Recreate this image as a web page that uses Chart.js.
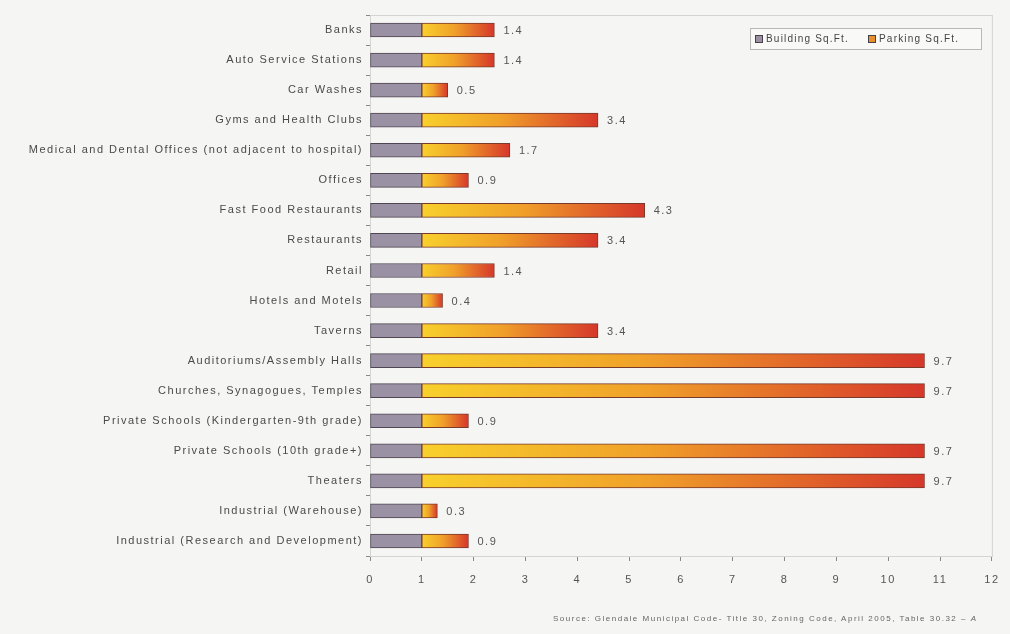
<!DOCTYPE html>
<html>
<head>
<meta charset="utf-8">
<script src="https://cdn.jsdelivr.net/npm/chart.js@4/dist/chart.umd.min.js"></script>
<style>
  html, body { margin: 0; padding: 0; background: #f5f5f3; }
  #wrap { position: relative; width: 1010px; height: 634px; }
  #source {
    position: absolute; left: 553px; top: 614px;
    font: 8px "Liberation Sans", Arial, sans-serif; color: #666;
    letter-spacing: 1.5px; white-space: nowrap;
  }
</style>
</head>
<body>
<div id="wrap">
  <canvas id="parkingChart" width="1010" height="634"></canvas>
  <div id="source">Source: Glendale Municipal Code- Title 30, Zoning Code, April 2005, Table 30.32 – <i>A</i></div>
</div>
<script>
// 카테고리와 값
var categories = [
  "Banks",
  "Auto Service Stations",
  "Car Washes",
  "Gyms and Health Clubs",
  "Medical and Dental Offices (not adjacent to hospital)",
  "Offices",
  "Fast Food Restaurants",
  "Restaurants",
  "Retail",
  "Hotels and Motels",
  "Taverns",
  "Auditoriums/Assembly Halls",
  "Churches, Synagogues, Temples",
  "Private Schools (Kindergarten-9th grade)",
  "Private Schools (10th grade+)",
  "Theaters",
  "Industrial (Warehouse)",
  "Industrial (Research and Development)"
];
var buildingSqFt = [1, 1, 1, 1, 1, 1, 1, 1, 1, 1, 1, 1, 1, 1, 1, 1, 1, 1];
var parkingSqFt = [1.4, 1.4, 0.5, 3.4, 1.7, 0.9, 4.3, 3.4, 1.4, 0.4, 3.4, 9.7, 9.7, 0.9, 9.7, 9.7, 0.3, 0.9];
var xTicks = [0, 1, 2, 3, 4, 5, 6, 7, 8, 9, 10, 11, 12];

var fontFamily = '"Liberation Sans", Arial, sans-serif';
var spacing = "1.5px"; // 원본 글자 간격이 넓음

// 주차 막대 그라데이션 (노랑 -> 빨강)
function parkingGradient(context) {
  var chart = context.chart;
  if (!chart.chartArea) return "#f0a030";
  var x = chart.scales.x;
  var start = x.getPixelForValue(buildingSqFt[context.dataIndex]);
  var end = x.getPixelForValue(buildingSqFt[context.dataIndex] + parkingSqFt[context.dataIndex]);
  var g = chart.ctx.createLinearGradient(start, 0, end + 0.01, 0);
  g.addColorStop(0, "#f8d02c");
  g.addColorStop(0.45, "#f0a02a");
  g.addColorStop(1, "#d6372a");
  return g;
}

// 글자 간격 + 플롯 영역 테두리
var areaPlugin = {
  id: "areaBox",
  beforeDraw: function (chart) {
    chart.ctx.letterSpacing = spacing;
  },
  beforeDatasetsDraw: function (chart) {
    var a = chart.chartArea, c = chart.ctx;
    c.save();
    c.strokeStyle = "#d4d4d2";
    c.lineWidth = 1;
    c.strokeRect(a.left + 0.5, a.top + 0.5, a.right - a.left, a.bottom - a.top);
    c.restore();
  }
};

// 값 라벨
var valuePlugin = {
  id: "valueLabels",
  afterDatasetsDraw: function (chart) {
    var meta = chart.getDatasetMeta(1);
    var c = chart.ctx;
    c.save();
    c.letterSpacing = spacing;
    c.font = "11px " + fontFamily;
    c.fillStyle = "#555";
    c.textBaseline = "middle";
    c.textAlign = "left";
    meta.data.forEach(function (bar, i) {
      c.fillText(String(parkingSqFt[i]), bar.x + 9, bar.y + 1);
    });
    c.restore();
  }
};

// 범례 (차트 영역 안 오른쪽 위)
var legendPlugin = {
  id: "boxLegend",
  afterDraw: function (chart) {
    var c = chart.ctx;
    var left = 750, top = 28, w = 231, h = 21;
    c.save();
    c.fillStyle = "#f9f9f8";
    c.fillRect(left, top, w, h);
    c.strokeStyle = "#b8b8b8";
    c.lineWidth = 1;
    c.strokeRect(left + 0.5, top + 0.5, w, h);
    c.letterSpacing = "1.2px";
    c.font = "10px " + fontFamily;
    c.textBaseline = "middle";
    var items = [
      { text: chart.data.datasets[0].label, x: 755, color: "#9a92a4" },
      { text: chart.data.datasets[1].label, x: 868, color: "#e8902a" }
    ];
    items.forEach(function (it) {
      c.fillStyle = it.color;
      c.fillRect(it.x, top + 7, 8, 8);
      c.strokeStyle = "#4a4048";
      c.strokeRect(it.x + 0.5, top + 7.5, 7, 7);
      c.fillStyle = "#444";
      c.fillText(it.text, it.x + 11, top + 11);
    });
    c.restore();
  }
};

var ctx = document.getElementById("parkingChart").getContext("2d");
new Chart(ctx, {
  type: "bar",
  data: {
    labels: categories,
    datasets: [
      {
        label: "Building Sq.Ft.",
        data: buildingSqFt,
        backgroundColor: "#9a92a4",
        borderColor: "#4e4552",
        borderWidth: 1,
        borderSkipped: false,
        barThickness: 14
      },
      {
        label: "Parking Sq.Ft.",
        data: parkingSqFt,
        backgroundColor: parkingGradient,
        borderColor: "#7a3a2a",
        borderWidth: 1,
        borderSkipped: false,
        barThickness: 14
      }
    ]
  },
  options: {
    indexAxis: "y",
    responsive: false,
    animation: false,
    layout: { padding: { top: 15, right: 17, bottom: 38, left: 0 } },
    plugins: {
      legend: { display: false },
      tooltip: { enabled: false }
    },
    scales: {
      x: {
        stacked: true,
        min: 0,
        max: 12,
        afterBuildTicks: function (scale) {
          scale.ticks = xTicks.map(function (v) { return { value: v }; });
        },
        afterFit: function (scale) { scale.height = 40; },
        grid: { drawOnChartArea: false, drawTicks: true, tickLength: 5, color: "#888" },
        border: { color: "#888" },
        ticks: { font: { family: fontFamily, size: 11 }, color: "#555", padding: 12 }
      },
      y: {
        stacked: true,
        afterFit: function (scale) { scale.width = 370; },
        grid: { drawOnChartArea: false, drawTicks: true, tickLength: 4, color: "#888", offset: true },
        border: { color: "#888" },
        ticks: { font: { family: fontFamily, size: 11 }, color: "#4a4a4a", padding: 3, autoSkip: false }
      }
    }
  },
  plugins: [areaPlugin, valuePlugin, legendPlugin]
});
</script>
</body>
</html>
